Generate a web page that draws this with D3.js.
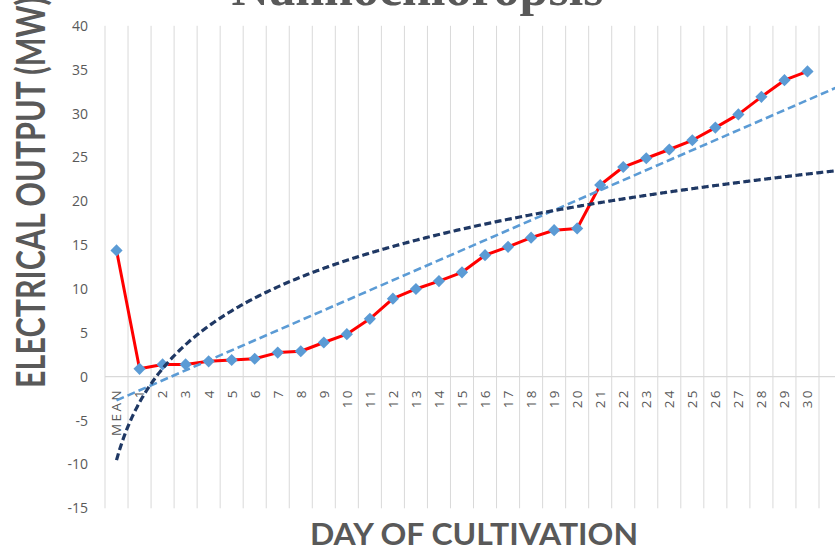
<!DOCTYPE html>
<html>
<head>
<meta charset="utf-8">
<script src="https://cdn.jsdelivr.net/npm/d3@7"></script>
<style>
  html, body { margin: 0; padding: 0; background: #ffffff; }
  svg { display: block; }
</style>
</head>
<body>
<svg id="chart" width="835" height="552"></svg>
<script>
// ---- data ----
const title = "Nannochloropsis";
const xTitle = "DAY OF CULTIVATION";
const yTitle = "ELECTRICAL OUTPUT (MW)";
const categories = ["MEAN","1","2","3","4","5","6","7","8","9","10","11","12","13","14","15",
  "16","17","18","19","20","21","22","23","24","25","26","27","28","29","30"];
const output = [14.4, 0.9, 1.4, 1.4, 1.75, 1.9, 2.05, 2.75, 2.9, 3.9, 4.85, 6.6, 8.9, 10, 10.9, 11.9,
  13.85, 14.8, 15.85, 16.7, 16.9, 21.85, 23.9, 24.9, 25.9, 26.95, 28.4, 29.9, 31.9, 33.8, 34.8];
const yTicks = [-15, -10, -5, 0, 5, 10, 15, 20, 25, 30, 35, 40];
const forecastPeriods = 2;

// ---- layout ----
const W = 835, H = 552;
const plotLeft = 105, plotTop = 25.8, plotBottom = 508.3;
const step = (819 - 105) / categories.length;
const grey = "#595959";

const svg = d3.select("#chart");

// band scale over categories + forecast periods (Excel extends the category axis)
const keys = categories.map((c, i) => i).concat(d3.range(categories.length, categories.length + forecastPeriods));
const x = d3.scaleBand().domain(keys).range([plotLeft, plotLeft + step * keys.length]).padding(0);
const xc = i => x(i) + x.bandwidth() / 2;
// continuous version for trendlines (Excel x = index + 1)
const xLin = d3.scaleLinear().domain([1, 2]).range([xc(0), xc(1)]);
const y = d3.scaleLinear().domain([-15, 40]).range([plotBottom, plotTop]);

// ---- gridlines (vertical, between categories) ----
const gridX = keys.map(k => x(k)).concat([x(keys[keys.length - 1]) + x.bandwidth()]);
svg.append("g").selectAll("line").data(gridX).join("line")
  .attr("x1", d => d).attr("x2", d => d)
  .attr("y1", y(40)).attr("y2", y(-15))
  .attr("stroke", "#d9d9d9").attr("stroke-width", 1);

// horizontal axis at zero
svg.append("line")
  .attr("x1", plotLeft).attr("x2", W + 40)
  .attr("y1", y(0)).attr("y2", y(0))
  .attr("stroke", "#d9d9d9").attr("stroke-width", 1.2);

// ---- y tick labels ----
svg.append("g").selectAll("text").data(yTicks).join("text")
  .attr("x", 88).attr("y", d => y(d)).attr("dy", "0.36em")
  .attr("text-anchor", "end")
  .attr("font-family", "'Open Sans', sans-serif").attr("font-size", 14)
  .attr("fill", grey).text(d => d);

// ---- x tick labels (rotated) ----
svg.append("g").selectAll("text").data(categories).join("text")
  .attr("transform", (d, i) => `translate(${xc(i)},388) rotate(-90)`)
  .attr("dy", "0.36em")
  .attr("text-anchor", "end")
  .attr("font-family", "'Open Sans', sans-serif").attr("font-size", 13.5)
  .attr("letter-spacing", "2.4px")
  .attr("fill", grey).text(d => d);

// ---- trendlines (least squares on Excel x = 1..n) ----
const xs = output.map((v, i) => i + 1);
const n = xs.length;
function fit(tx) {
  const t = xs.map(tx);
  const mt = d3.mean(t), my = d3.mean(output);
  let sxy = 0, sxx = 0;
  t.forEach((ti, i) => { sxy += (ti - mt) * (output[i] - my); sxx += (ti - mt) * (ti - mt); });
  const a = sxy / sxx;
  return { a, b: my - a * mt };
}
const lin = fit(v => v);
const lg = fit(v => Math.log(v));
const xEnd = n + forecastPeriods;
const samples = d3.range(1, xEnd + 0.001, 0.05);
const trendLine = d3.line().x(d => xLin(d[0])).y(d => y(d[1]));

// ---- data line ----
const dataLine = d3.line().x((d, i) => xc(i)).y(d => y(d));
svg.append("path").datum(output)
  .attr("d", dataLine)
  .attr("fill", "none").attr("stroke", "#ff0000").attr("stroke-width", 3)
  .attr("stroke-linejoin", "round");

// markers
const diamond = d3.symbol().type(d3.symbolSquare).size(74);
svg.append("g").selectAll("path").data(output).join("path")
  .attr("d", diamond)
  .attr("transform", (d, i) => `translate(${xc(i)},${y(d)}) rotate(45)`)
  .attr("fill", "#5b9bd5");

// linear trend
svg.append("path").datum([[1, lin.a + lin.b], [xEnd, lin.a * xEnd + lin.b]])
  .attr("d", trendLine)
  .attr("fill", "none").attr("stroke", "#5b9bd5").attr("stroke-width", 2.6)
  .attr("stroke-dasharray", "8,4");

// log trend
svg.append("path").datum(samples.map(v => [v, lg.a * Math.log(v) + lg.b]))
  .attr("d", trendLine)
  .attr("fill", "none").attr("stroke", "#1f3864").attr("stroke-width", 3.2)
  .attr("stroke-dasharray", "7,3.5");

// ---- titles ----
svg.append("text")
  .attr("x", 417.5).attr("y", 5)
  .attr("text-anchor", "middle")
  .attr("font-family", "'Liberation Serif', 'Times New Roman', serif")
  .attr("font-weight", "bold").attr("font-size", 52)
  .attr("fill", grey).text(title);

svg.append("text")
  .attr("x", 310).attr("y", 545)
  .attr("textLength", 328).attr("lengthAdjust", "spacingAndGlyphs")
  .attr("font-family", "Lato, 'Open Sans', sans-serif")
  .attr("font-weight", "bold").attr("font-size", 31)
  .attr("fill", grey).text(xTitle);

svg.append("text")
  .attr("transform", "translate(45,388) rotate(-90)")
  .attr("textLength", 391).attr("lengthAdjust", "spacingAndGlyphs")
  .attr("font-family", "Lato, 'Open Sans', sans-serif")
  .attr("font-weight", "bold").attr("font-size", 40)
  .attr("fill", grey).text(yTitle);
</script>
</body>
</html>
